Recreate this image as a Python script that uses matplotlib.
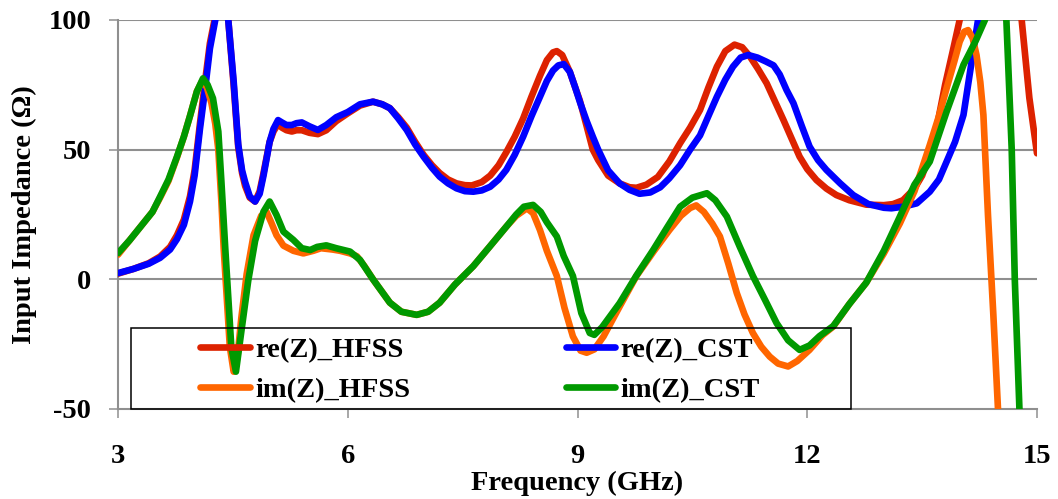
import matplotlib
matplotlib.use("Agg")
import matplotlib.pyplot as plt
from matplotlib.patches import Rectangle

# ---------------- data ----------------
f_re_hfss = [3.0, 3.2, 3.4, 3.55, 3.68, 3.77, 3.86, 3.94, 4.0, 4.07, 4.14, 4.2, 4.26, 4.35, 4.44,
             4.51, 4.57, 4.62, 4.66, 4.72, 4.79, 4.85, 4.9, 4.98, 5.03, 5.09, 5.14, 5.2, 5.27, 5.33,
             5.4, 5.5, 5.61, 5.72, 5.85, 6.0, 6.16, 6.33, 6.45, 6.55, 6.66, 6.77, 6.88, 6.99, 7.1,
             7.2, 7.31, 7.42, 7.53, 7.62, 7.75, 7.86, 7.97, 8.07, 8.18, 8.29, 8.4, 8.51, 8.6, 8.68,
             8.73, 8.8, 8.9, 8.97, 9.03, 9.12, 9.2, 9.27, 9.4, 9.55, 9.68, 9.77, 9.9, 10.05, 10.2,
             10.34, 10.47, 10.6, 10.71, 10.82, 10.93, 11.05, 11.15, 11.25, 11.36, 11.47, 11.58,
             11.69, 11.8, 11.9, 12.0, 12.12, 12.25, 12.38, 12.55, 12.77, 13.0, 13.12, 13.25, 13.4,
             13.5, 13.6, 13.7, 13.8, 13.9, 13.99, 14.1, 14.3, 14.5, 14.65, 14.73, 14.8, 14.9, 15.0]
re_hfss = [2.2, 4.0, 6.2, 8.8, 12.5, 17, 23, 32, 42, 60, 77, 91, 100, 125, 100,
           75, 51, 41, 36, 31.5, 30, 34, 41, 53, 57, 60, 58.5, 57.5, 57, 57.5,
           57.5, 56.5, 56, 57.5, 61, 64, 67, 68.5, 67.5, 66, 62.5, 58.5, 53, 48, 44,
           41, 38.5, 37, 36.3, 36.2, 37.5, 40, 44, 49, 55, 62, 70.5, 78.5, 84.5, 87.5,
           88, 86.5, 80, 74, 69, 59, 50, 46, 40, 37, 35.5, 35.3, 36.5, 39.5, 45.5,
           52.5, 58.5, 65.3, 74, 82, 88, 90.5, 89.5, 86, 81, 75.6, 68.5,
           61.4, 54, 47.3, 42.5, 38.3, 35, 32.5, 30.5, 28.8, 28.6, 29, 30.5, 35,
           40, 48, 60, 75, 88, 100, 125, 170, 200, 170, 135, 100, 70, 48.6]

f_re_cst = [3.0, 3.2, 3.4, 3.55, 3.68, 3.77, 3.86, 3.94, 4.0, 4.07, 4.14, 4.2, 4.27, 4.35, 4.44,
            4.51, 4.57, 4.62, 4.66, 4.72, 4.79, 4.85, 4.9, 4.98, 5.03, 5.09, 5.14, 5.2, 5.27, 5.33,
            5.4, 5.5, 5.61, 5.72, 5.85, 6.0, 6.16, 6.33, 6.45, 6.55, 6.66, 6.77, 6.88, 6.99, 7.1,
            7.2, 7.31, 7.42, 7.53, 7.64, 7.75, 7.86, 7.97, 8.07, 8.18, 8.29, 8.4, 8.51, 8.6, 8.68,
            8.75, 8.82, 8.9, 8.97, 9.03, 9.12, 9.2, 9.27, 9.4, 9.55, 9.68, 9.81, 9.95, 10.08, 10.2,
            10.34, 10.47, 10.6, 10.71, 10.82, 10.93, 11.03, 11.13, 11.23, 11.35, 11.46, 11.56,
            11.64, 11.73, 11.82, 11.93, 12.03, 12.14, 12.25, 12.43, 12.6, 12.8, 13.0, 13.1, 13.25,
            13.43, 13.6, 13.72, 13.82, 13.93, 14.04, 14.14, 14.23, 14.32, 14.5, 14.75, 15.0]
re_cst = [2.4, 4.0, 6.0, 8.3, 11.5, 15.5, 21, 30, 40, 58, 74, 89, 100, 118, 100,
          76.4, 52, 42, 37.5, 32, 30, 33, 40, 53, 58, 61.4, 60.5, 59.5, 59.5, 60.2,
          60.5, 59, 57.6, 59.5, 62.5, 64.5, 67.5, 68.5, 67.5, 66, 62, 57.6, 52, 47.3, 43,
          39.6, 37, 35.1, 34, 33.8, 34.3, 35.7, 38.5, 42.2, 48, 55, 63, 70.4, 76.5, 80.5,
          82.5, 83, 80, 74, 68.5, 61, 55, 50, 42, 37, 34.5, 33, 33.5, 35.5, 39,
          44, 50, 55.5, 63, 70.4, 77, 82, 85.5, 86.5, 85.5, 84, 82.5,
          79, 73, 67.9, 59, 51.2, 46, 42.2, 37, 32.5, 29, 27.6, 27.4, 28,
          29.3, 33.8, 38.5, 45.4, 53, 63.4, 82.7, 100, 120, 160, 200, 240]

f_im_hfss = [3.0, 3.15, 3.33, 3.45, 3.55, 3.66, 3.77, 3.86, 3.94, 4.03, 4.1, 4.16, 4.22, 4.27,
             4.31, 4.35, 4.38, 4.42, 4.46, 4.51, 4.56, 4.61, 4.68, 4.77, 4.87, 4.94, 5.0, 5.07,
             5.16, 5.29, 5.42, 5.55, 5.65, 5.8, 5.9, 6.03, 6.12, 6.22, 6.33, 6.44, 6.55, 6.7,
             6.9, 7.05, 7.2, 7.4, 7.64, 7.85, 8.07, 8.2, 8.34, 8.42, 8.51, 8.6, 8.73, 8.83, 8.94,
             9.04, 9.12, 9.22, 9.34, 9.55, 9.77, 10.0, 10.2, 10.35, 10.47, 10.55, 10.65, 10.76,
             10.86, 10.97, 11.08, 11.18, 11.29, 11.4, 11.51, 11.62, 11.75, 11.87, 12.03, 12.2,
             12.34, 12.55, 12.77, 13.0, 13.21, 13.4, 13.6, 13.72, 13.82, 13.92, 13.99, 14.05,
             14.1, 14.16, 14.21, 14.26, 14.3, 14.36, 14.43, 14.49, 14.56]
im_hfss = [9.5, 15, 21.6, 26, 31.5, 38, 47, 55, 63, 72.5, 76.5, 74, 68, 60,
           50, 30, 12, -7, -26, -35.6, -30, -15, 2, 17, 24.5, 26, 22, 17,
           13, 11, 10, 11, 12, 11.5, 11, 10, 8.9, 5, 0, -4.5, -9, -12.5,
           -13.7, -12.5, -9, -2, 5.1, 12.5, 20.3, 24.5, 27.4, 25.5, 19, 11, 1.3, -11, -22,
           -27.5, -28.3, -27, -22, -10.5, 1.3, 11, 19, 24.5, 27.5, 28.5, 26, 21.5,
           16.5, 6, -5.3, -13.5, -20.7, -26, -29.8, -32.5, -33.6, -31.5, -27.2, -21.5,
           -18.2, -9.5, -1.3, 10, 21.6, 34, 51.8, 63, 73.7, 84, 91.6, 95.5,
           96.1, 93, 86.5, 76, 63.4, 24.8, -13.7, -49.6, -90]

f_im_cst = [3.0, 3.15, 3.33, 3.45, 3.55, 3.66, 3.77, 3.86, 3.94, 4.03, 4.11, 4.17, 4.24, 4.31,
            4.35, 4.4, 4.44, 4.48, 4.54, 4.61, 4.7, 4.79, 4.9, 4.98, 5.07, 5.16, 5.29, 5.4, 5.51,
            5.6, 5.72, 5.85, 6.03, 6.16, 6.33, 6.55, 6.7, 6.9, 7.05, 7.2, 7.4, 7.64, 7.85, 8.07,
            8.2, 8.3, 8.42, 8.52, 8.6, 8.73, 8.82, 8.94, 9.05, 9.16, 9.22, 9.32, 9.55, 9.77, 9.99,
            10.17, 10.34, 10.5, 10.69, 10.8, 10.95, 11.12, 11.29, 11.45, 11.6, 11.75, 11.9, 12.03,
            12.16, 12.34, 12.55, 12.77, 13.0, 13.21, 13.4, 13.6, 13.82, 14.04, 14.2, 14.32, 14.4,
            14.5, 14.56, 14.6, 14.67, 14.71, 14.77, 14.85]
im_cst = [10.1, 15, 21.6, 26, 31.9, 38.5, 47.3, 55, 63, 72.4, 77.5, 75, 69.8, 57,
          37.7, 12.2, -7, -26.3, -35.6, -20.2, -0.6, 14.8, 26.1, 30, 24.8, 18.4, 15.2, 12, 11.3,
          12.5, 13.1, 12, 10.7, 7.5, 0, -9, -12.5, -13.7, -12.5, -9, -2, 5.1, 12.5, 20.3,
          25, 28, 28.7, 26, 22, 16.5, 9, 1.3, -13, -20.7, -21.4, -18.5, -9.2, 1.5, 11.4,
          20, 28, 31.5, 33.2, 30.5, 24.2, 12.5, 1.3, -8, -16.9, -23.5, -27.2, -25.5,
          -21.9, -18, -9.5, -1.3, 11, 24.2, 36.5, 45.4, 64.7, 82.7, 92, 100, 120,
          200, 160, 100, 50, 0, -49.6, -120]

x_ticks = [3, 6, 9, 12, 15]
y_ticks = [-50, 0, 50, 100]
labels = ["re(Z)_HFSS", "re(Z)_CST", "im(Z)_HFSS", "im(Z)_CST"]
colors = ["#DD2200", "#0000FF", "#FF6600", "#009900"]

# ---------------- figure ----------------
W, H = 1058, 499
fig = plt.figure(figsize=(W / 100, H / 100), dpi=100)
ax = fig.add_axes([118 / W, 1 - 409 / H, 919 / W, 389 / H])

FONT = "Liberation Serif"
FS = 20.5
lw = 4.8

series = [(f_re_hfss, re_hfss), (f_re_cst, re_cst), (f_im_hfss, im_hfss), (f_im_cst, im_cst)]
handles = []
for (fx, fy), c, lab in zip(series, colors, labels):
    ln, = ax.plot(fx, fy, color=c, lw=lw, solid_capstyle="round", solid_joinstyle="round", label=lab)
    handles.append(ln)

ax.set_xlim(3, 15)
ax.set_ylim(-50, 100)
ax.set_xticks(x_ticks)
ax.set_yticks(y_ticks)
ax.set_xticklabels([str(v) for v in x_ticks])
ax.set_yticklabels([str(v) for v in y_ticks])

grey = "#8f8f8f"
for v in [0, 50, 100]:
    ax.axhline(v, color=grey, lw=1.5, zorder=0.5)
ax.spines["top"].set_visible(False)
ax.spines["right"].set_visible(False)
for s in ["left", "bottom"]:
    ax.spines[s].set_color(grey)
    ax.spines[s].set_linewidth(1.5)
    ax.spines[s].set_zorder(0.6)

ax.tick_params(axis="both", direction="out", length=6.3, width=1.1, color=grey)
ax.tick_params(axis="x", pad=19)
ax.tick_params(axis="y", pad=13)
for t in ax.get_xticklabels() + ax.get_yticklabels():
    t.set_fontfamily(FONT)
    t.set_fontweight("bold")
    t.set_fontsize(FS)

ax.set_xlabel("Frequency (GHz)", fontfamily=FONT, fontweight="bold", fontsize=FS)
ax.set_ylabel("Input Impedance (\u03a9)", fontfamily=FONT, fontweight="bold", fontsize=FS)
ax.xaxis.set_label_coords(0.5, -0.158)
ax.yaxis.set_label_coords(-0.088, 0.5)

# legend (transparent background, framed by a rectangle)
order = [0, 2, 1, 3]
leg = ax.legend([handles[i] for i in order], [labels[i] for i in order], ncol=2,
                loc="upper left", bbox_to_anchor=(0.0892, 0.185), frameon=False,
                borderpad=0, borderaxespad=0, handlelength=1.75, handletextpad=0.19,
                columnspacing=5.45, labelspacing=0.5,
                prop={"family": FONT, "weight": "bold", "size": FS})
ax.add_patch(Rectangle((0.0141, 0.0), 0.7834, 0.208, transform=ax.transAxes,
                       facecolor="none", edgecolor="black", lw=1.1, clip_on=False, zorder=5))

fig.savefig("out.png", dpi=100)
